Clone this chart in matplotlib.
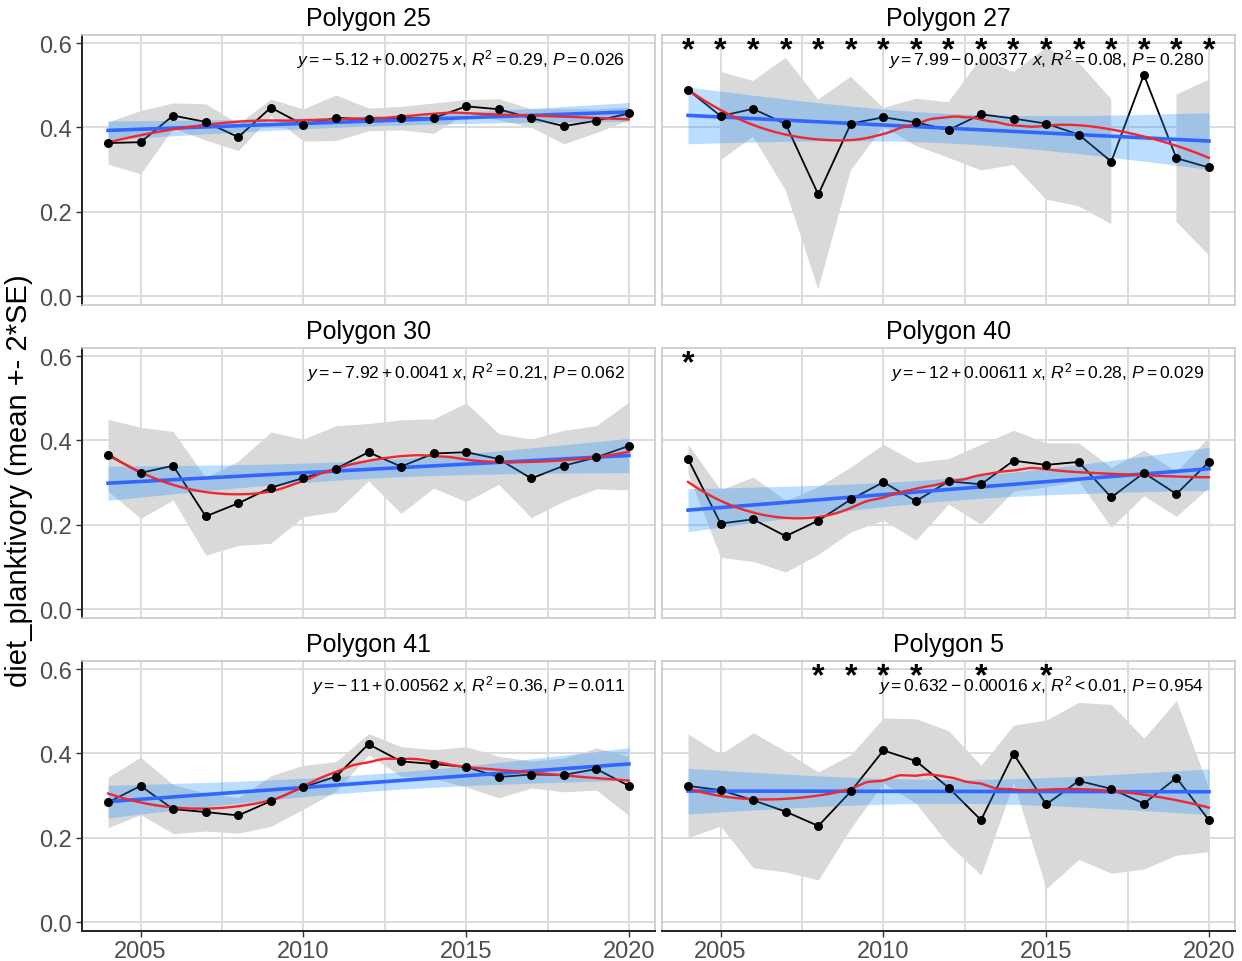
import numpy as np
import matplotlib
matplotlib.use("Agg")
import matplotlib.pyplot as plt

plt.rcParams['font.family'] = ['Liberation Sans', 'DejaVu Sans']
plt.rcParams['mathtext.fontset'] = 'custom'
plt.rcParams['mathtext.rm'] = 'Liberation Sans'
plt.rcParams['mathtext.it'] = 'Liberation Sans:italic'

years = list(range(2004, 2021))

panels = ["Polygon 25", "Polygon 27", "Polygon 30", "Polygon 40", "Polygon 41", "Polygon 5"]

# yearly means
mean_p25 = [0.363, 0.365, 0.428, 0.413, 0.377, 0.447, 0.406, 0.423, 0.419, 0.422, 0.422, 0.450, 0.443, 0.422, 0.403, 0.416, 0.433]
mean_p27 = [0.489, 0.427, 0.444, 0.408, 0.241, 0.409, 0.424, 0.412, 0.394, 0.431, 0.421, 0.409, 0.383, 0.319, 0.525, 0.327, 0.305]
mean_p30 = [0.365, 0.323, 0.340, 0.220, 0.251, 0.288, 0.311, 0.333, 0.372, 0.338, 0.369, 0.372, 0.356, 0.310, 0.340, 0.360, 0.387]
mean_p40 = [0.356, 0.203, 0.213, 0.173, 0.210, 0.260, 0.301, 0.256, 0.303, 0.296, 0.352, 0.342, 0.349, 0.265, 0.323, 0.273, 0.349]
mean_p41 = [0.284, 0.323, 0.268, 0.261, 0.253, 0.287, 0.320, 0.345, 0.422, 0.381, 0.375, 0.368, 0.344, 0.350, 0.349, 0.363, 0.323]
mean_p5 = [0.323, 0.313, 0.289, 0.262, 0.228, 0.310, 0.407, 0.382, 0.319, 0.242, 0.399, 0.279, 0.335, 0.316, 0.281, 0.342, 0.242]

# 2*SE half widths (nan = no SE)
nan = float('nan')
se2_p25 = [0.050, 0.075, 0.030, 0.043, 0.032, 0.020, 0.038, 0.054, 0.027, 0.028, 0.036, 0.016, 0.025, 0.022, 0.042, 0.028, 0.015]
se2_p27 = [nan, 0.105, 0.066, 0.157, 0.225, 0.111, 0.022, 0.056, 0.066, 0.133, 0.110, 0.180, 0.170, 0.148, nan, 0.151, 0.208]
se2_p30 = [0.085, 0.108, 0.081, 0.092, 0.100, 0.132, 0.092, 0.102, 0.068, 0.111, 0.082, 0.117, 0.060, 0.093, 0.084, 0.075, 0.104]
se2_p40 = [0.035, 0.080, 0.100, 0.085, 0.080, 0.077, 0.090, 0.092, 0.054, 0.095, 0.072, 0.052, 0.045, 0.071, 0.054, 0.053, 0.060]
se2_p41 = [0.060, 0.068, 0.058, 0.045, 0.042, 0.060, 0.052, 0.035, 0.025, 0.035, 0.034, 0.048, 0.049, 0.032, 0.040, 0.050, 0.070]
se2_p5 = [0.123, 0.085, 0.160, 0.143, 0.128, 0.087, 0.077, 0.100, 0.135, 0.130, 0.068, 0.200, 0.186, 0.200, 0.155, 0.183, 0.075]

stars_p25 = []
stars_p27 = list(range(2004, 2021))
stars_p30 = []
stars_p40 = [2004]
stars_p41 = []
stars_p5 = [2008, 2009, 2010, 2011, 2013, 2015]

eq_labels = [
    r"$y = -\,5.12 + 0.00275\ x$, $R^2 = 0.29$, $P = 0.026$",
    r"$y = 7.99 - 0.00377\ x$, $R^2 = 0.08$, $P = 0.280$",
    r"$y = -\,7.92 + 0.0041\ x$, $R^2 = 0.21$, $P = 0.062$",
    r"$y = -\,12 + 0.00611\ x$, $R^2 = 0.28$, $P = 0.029$",
    r"$y = -\,11 + 0.00562\ x$, $R^2 = 0.36$, $P = 0.011$",
    r"$y = 0.632 - 0.00016\ x$, $R^2 < 0.01$, $P = 0.954$",
]

means = [mean_p25, mean_p27, mean_p30, mean_p40, mean_p41, mean_p5]
se2s = [se2_p25, se2_p27, se2_p30, se2_p40, se2_p41, se2_p5]
stars = [stars_p25, stars_p27, stars_p30, stars_p40, stars_p41, stars_p5]


def loess(x, y, xs, span=0.75):
    n = len(x)
    q = int(np.floor(n * span))
    out = []
    for x0 in xs:
        d = np.abs(x - x0)
        h = np.sort(d)[q - 1]
        w = np.clip(1 - (d / h) ** 3, 0, None) ** 3
        X = np.vstack([np.ones(n), x - x0, (x - x0) ** 2]).T
        W = np.diag(w)
        beta = np.linalg.lstsq(X.T @ W @ X, X.T @ W @ y, rcond=None)[0]
        out.append(beta[0])
    return np.array(out)


fig = plt.figure(figsize=(12.42, 9.62), dpi=100)
W, H = 1242, 962
col_x = [82, 662]
row_top = [35.6, 348.6, 661.6]
pw, ph = 573, 270

grid_c = '#dcdcdc'
xs = np.linspace(2004, 2020, 200)
yr = np.array(years, dtype=float)

for i, name in enumerate(panels):
    r, c = divmod(i, 2)
    ax = fig.add_axes([col_x[c] / W, 1 - (row_top[r] + ph) / H, pw / W, ph / H])
    m = np.array(means[i])
    s = np.array(se2s[i])

    ax.fill_between(yr, m - s, m + s, color='#d9d9d9', lw=0, zorder=2)
    ax.plot(yr, m, color='black', lw=1.3, zorder=3)

    # linear fit with 95% CI
    b1, b0 = np.polyfit(yr, m, 1)
    fit = b0 + b1 * xs
    resid = m - (b0 + b1 * yr)
    sig = np.sqrt(np.sum(resid ** 2) / (len(yr) - 2))
    sxx = np.sum((yr - yr.mean()) ** 2)
    sef = sig * np.sqrt(1 / len(yr) + (xs - yr.mean()) ** 2 / sxx)
    ax.fill_between(xs, fit - 2.131 * sef, fit + 2.131 * sef, color='#1e90ff', alpha=0.3, lw=0, zorder=4)
    ax.plot(xs, fit, color='#3366ff', lw=2.6, zorder=5)

    ax.plot(xs, loess(yr, m, xs), color='#f0282d', lw=1.7, zorder=6)
    ax.scatter(yr, m, s=42, color='black', zorder=7, lw=0)

    for yy in stars[i]:
        ax.text(yy, 0.583, '*', ha='center', va='center', fontsize=23, fontweight='bold', zorder=8)

    ax.text(0.947, 0.91, eq_labels[i], transform=ax.transAxes, ha='right', va='center', fontsize=12.6, zorder=8)

    ax.set_xlim(2003.2, 2020.8)
    ax.set_ylim(-0.02, 0.62)
    ax.set_xticks([2005, 2010, 2015, 2020])
    ax.set_xticks([2007.5, 2012.5, 2017.5], minor=True)
    ax.set_yticks([0.0, 0.2, 0.4, 0.6])
    ax.grid(True, which='major', color=grid_c, lw=1.4, zorder=0)
    ax.grid(True, which='minor', axis='x', color=grid_c, lw=1.4, zorder=0)
    ax.set_axisbelow(True)
    for sp in ax.spines.values():
        sp.set_color('#c8c8c8')
        sp.set_linewidth(1.2)
    ax.tick_params(which='minor', length=0)
    ax.tick_params(which='major', length=4, width=1, color='#333333', labelcolor='#4d4d4d', labelsize=17, pad=3)
    if c == 0:
        ax.spines['left'].set_color('#222222')
        ax.spines['left'].set_linewidth(1.4)
        ax.set_yticklabels(['0.0', '0.2', '0.4', '0.6'])
    else:
        ax.tick_params(axis='y', length=0, labelleft=False)
    if r == 2:
        ax.spines['bottom'].set_color('#222222')
        ax.spines['bottom'].set_linewidth(1.4)
    else:
        ax.tick_params(axis='x', length=0, labelbottom=False)

    fig.text((col_x[c] + pw / 2) / W, 1 - (row_top[r] - 17) / H, name, ha='center', va='center', fontsize=18)

fig.text(19 / W, 0.5, 'diet_planktivory (mean +- 2*SE)', rotation=90, ha='center', va='center', fontsize=21)

fig.savefig('out.png', dpi=100)
